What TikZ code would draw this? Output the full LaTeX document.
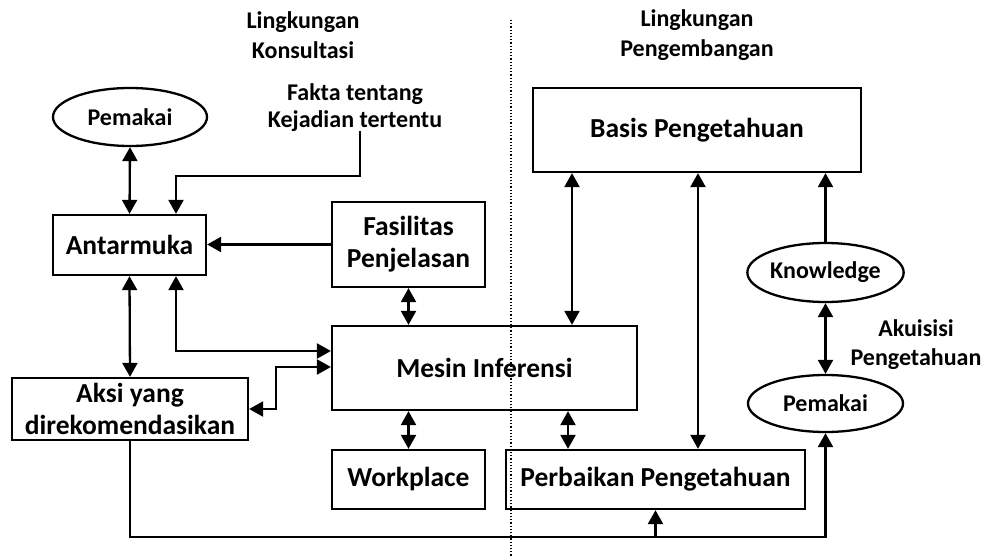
\documentclass[tikz,border=0pt]{standalone}
\usepackage{fontspec}
\setmainfont{Carlito}
\usetikzlibrary{arrows.meta,shapes.geometric,calc}
\begin{document}
\begin{tikzpicture}[x=1pt,y=-1pt,
  lw/.style={line width=2.3pt},
  bigtxt/.style={font=\bfseries\fontsize{27.5}{32}\selectfont, align=center},
  smalltxt/.style={font=\bfseries\fontsize{24}{30}\selectfont, align=center},
  boxnode/.style={draw, lw, rectangle, inner sep=0pt, bigtxt},
  ellnode/.style={draw, lw, ellipse, inner sep=0pt, smalltxt},
  arr/.style={lw, -{Triangle[length=14pt,width=15pt]}},
  dbl/.style={lw, {Triangle[length=14pt,width=15pt]}-{Triangle[length=14pt,width=15pt]}},
  line/.style={lw}
]
\useasboundingbox (0,0) rectangle (982,556);
\fill[white] (0,0) rectangle (982,556);

% titles
\node[smalltxt] (t1) at (303,35) {Lingkungan\\Konsultasi};
\node[smalltxt] (t2) at (697,35) {Lingkungan\\Pengembangan};
\node[smalltxt, font=\bfseries\fontsize{24}{27}\selectfont] (fakta) at (355,108) {Fakta tentang\\Kejadian tertentu};
\node[smalltxt, font=\bfseries\fontsize{24}{29}\selectfont] (akui) at (916,345) {Akuisisi\\Pengetahuan};

% divider
\coordinate (dtop) at (511,20);
\coordinate (dbot) at (511,556);
\draw[line width=1.2pt, dotted] (dtop) -- (dbot);

% nodes
\node[ellnode, minimum width=154pt, minimum height=58pt] (pem1) at (130,117) {Pemakai};
\node[boxnode, minimum width=153pt, minimum height=60pt] (ant) at (129.5,245) {Antarmuka};
\node[boxnode, minimum width=153pt, minimum height=85pt] (fas) at (408.5,244.5) {Fasilitas\\Penjelasan};
\node[boxnode, minimum width=305pt, minimum height=84pt] (mes) at (484.5,368) {Mesin Inferensi};
\node[boxnode, minimum width=236pt, minimum height=62pt] (aksi) at (130,409) {Aksi yang\\direkomendasikan};
\node[boxnode, minimum width=153pt, minimum height=59pt] (work) at (408.5,479.5) {Workplace};
\node[boxnode, minimum width=299pt, minimum height=59pt] (perb) at (655.5,479.5) {Perbaikan Pengetahuan};
\node[boxnode, minimum width=328pt, minimum height=84pt] (basis) at (697,130) {Basis Pengetahuan};
\node[ellnode, minimum width=155pt, minimum height=59pt] (know) at (825.5,272.5) {Knowledge};
\node[ellnode, minimum width=155pt, minimum height=57pt] (pem2) at (825.5,403.5) {Pemakai};

% helper coordinates
\coordinate (fk1) at (360,131);
\coordinate (fk2) at (176,176);
\coordinate (am) at (176,351);
\coordinate (ak) at (276,367);
\coordinate (bm) at (572,0);
\coordinate (mp) at (568,0);
\coordinate (bp) at (698,0);
\coordinate (bot) at (130,537);

% connectors
\draw[dbl] (pem1.south) -- (ant.north);
\draw[arr] (fk1) |- (fk2) -- (fk2 |- ant.north);
\draw[arr] (fas.west) -- (fas.west -| ant.east);
\draw[dbl] (fas.south) -- (fas.south |- mes.north);
\draw[dbl] (ant.south) -- (aksi.north);
\draw[dbl] (am |- ant.south) |- (am -| mes.west);
\draw[dbl] (aksi.east) -| (ak) -- (ak -| mes.west);
\draw[dbl] (mes.south -| work.north) -- (work.north);
\draw[dbl] (mp |- mes.south) -- (mp |- perb.north);
\draw[dbl] (bm |- basis.south) -- (bm |- mes.north);
\draw[dbl] (bp |- basis.south) -- (bp |- perb.north);
\draw[arr] (know.north) -- (know.north |- basis.south);
\draw[dbl] (know.south) -- (pem2.north);
\draw[arr] (aksi.south) -- (bot) -| (pem2.south);
\draw[arr] (bot -| perb.south) -- (perb.south);
\end{tikzpicture}
\end{document}
